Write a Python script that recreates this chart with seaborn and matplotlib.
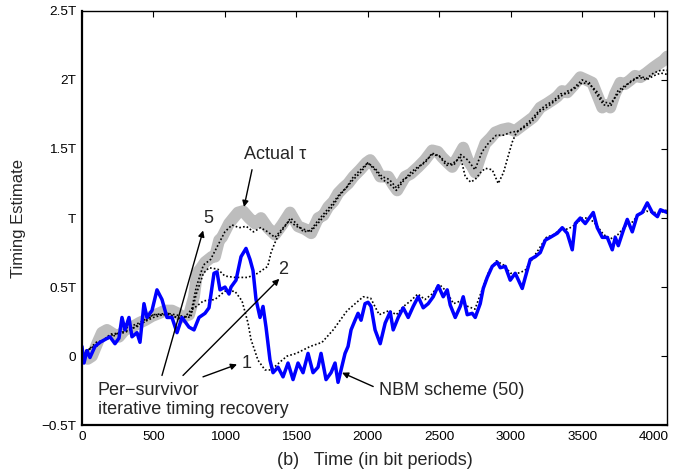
# ----------------------------------------------------------------------------------------
# ----- libraries
# ----------------------------------------------------------------------------------------
import matplotlib
matplotlib.use("Agg")
import matplotlib.pyplot as plt
import numpy as np
import pandas as pd
import seaborn as sns

# ----------------------------------------------------------------------------------------
# ----- data (time in bit periods, timing in units of T)
# ----------------------------------------------------------------------------------------
actual_t = [0, 40, 70, 110, 140, 175, 220, 259, 300, 350, 400, 441, 490, 539, 580, 630, 670,
            700, 750, 784, 805, 835, 861, 910, 931, 960, 980, 1029, 1060, 1092, 1127, 1170,
            1211, 1253, 1300, 1350, 1400, 1456, 1512, 1560, 1604, 1653, 1690, 1723, 1760,
            1793, 1830, 1863, 1900, 1947, 1990, 2017, 2052, 2087, 2143, 2178, 2206, 2262,
            2300, 2353, 2400, 2451, 2490, 2521, 2560, 2591, 2630, 2668, 2700, 2731, 2752,
            2790, 2822, 2860, 2892, 2940, 2983, 3030, 3081, 3120, 3158, 3207, 3256, 3300,
            3326, 3360, 3396, 3440, 3487, 3530, 3571, 3610, 3641, 3670, 3697, 3730, 3767,
            3800, 3838, 3870, 3908, 3950, 3999, 4040, 4069, 4096]
actual_v = [0.00, -0.02, 0.00, 0.10, 0.17, 0.19, 0.16, 0.14, 0.19, 0.21, 0.24, 0.26, 0.29,
            0.31, 0.33, 0.33, 0.31, 0.28, 0.30, 0.43, 0.60, 0.64, 0.68, 0.72, 0.72, 0.84,
            0.86, 0.96, 1.00, 1.04, 1.05, 1.00, 0.96, 1.00, 0.93, 0.88, 0.95, 1.04, 0.94,
            0.92, 0.89, 1.00, 1.02, 1.08, 1.12, 1.18, 1.22, 1.25, 1.30, 1.35, 1.40, 1.42,
            1.37, 1.30, 1.30, 1.24, 1.20, 1.30, 1.32, 1.37, 1.42, 1.49, 1.48, 1.44, 1.40,
            1.37, 1.44, 1.51, 1.42, 1.37, 1.33, 1.45, 1.54, 1.58, 1.62, 1.64, 1.65, 1.63,
            1.67, 1.70, 1.73, 1.80, 1.83, 1.86, 1.88, 1.92, 1.91, 1.96, 2.02, 2.00, 1.98,
            1.88, 1.80, 1.82, 1.80, 1.90, 1.98, 1.97, 2.00, 2.03, 2.02, 2.05, 2.09, 2.12,
            2.14, 2.17]

nbm_t = [0, 14, 35, 56, 91, 126, 161, 196, 231, 259, 280, 301, 329, 350, 385, 406, 434, 455,
         490, 525, 560, 595, 630, 665, 700, 749, 784, 819, 861, 889, 924, 945, 966, 1001,
         1029, 1043, 1078, 1113, 1148, 1176, 1197, 1218, 1246, 1267, 1288, 1316, 1337, 1372,
         1407, 1442, 1477, 1512, 1547, 1582, 1617, 1652, 1673, 1708, 1743, 1771, 1792, 1813,
         1841, 1862, 1883, 1911, 1932, 1953, 1981, 2002, 2023, 2051, 2087, 2122, 2157, 2178,
         2213, 2248, 2283, 2318, 2353, 2388, 2423, 2458, 2493, 2528, 2556, 2577, 2612, 2647,
         2668, 2696, 2731, 2752, 2787, 2808, 2836, 2871, 2906, 2927, 2962, 2997, 3032, 3081,
         3102, 3137, 3172, 3207, 3242, 3277, 3326, 3361, 3396, 3431, 3452, 3487, 3522, 3557,
         3578, 3606, 3641, 3676, 3711, 3732, 3753, 3788, 3816, 3851, 3886, 3921, 3956, 3991,
         4027, 4048, 4096]
nbm_v = [0.07, -0.05, 0.04, -0.01, 0.07, 0.10, 0.12, 0.14, 0.09, 0.13, 0.28, 0.19, 0.28,
         0.14, 0.17, 0.10, 0.38, 0.28, 0.33, 0.48, 0.41, 0.28, 0.28, 0.17, 0.28, 0.21, 0.19,
         0.28, 0.31, 0.35, 0.60, 0.61, 0.48, 0.50, 0.45, 0.50, 0.55, 0.72, 0.78, 0.70, 0.62,
         0.41, 0.28, 0.36, 0.21, -0.03, -0.12, -0.08, -0.15, -0.05, -0.17, -0.05, -0.12,
         0.02, -0.12, -0.08, 0.02, -0.17, -0.12, -0.05, -0.19, -0.10, 0.02, 0.07, 0.19,
         0.26, 0.31, 0.26, 0.38, 0.39, 0.36, 0.19, 0.09, 0.24, 0.32, 0.19, 0.28, 0.35, 0.28,
         0.36, 0.43, 0.35, 0.38, 0.43, 0.51, 0.43, 0.48, 0.37, 0.28, 0.36, 0.43, 0.30, 0.31,
         0.28, 0.38, 0.49, 0.57, 0.65, 0.68, 0.64, 0.65, 0.55, 0.60, 0.49, 0.57, 0.70, 0.72,
         0.75, 0.84, 0.86, 0.89, 0.93, 0.89, 0.77, 0.96, 1.00, 0.96, 1.01, 1.04, 0.93, 0.86,
         0.86, 0.77, 0.86, 0.80, 0.91, 0.99, 0.90, 1.02, 1.04, 1.11, 1.04, 1.01, 1.06, 1.04]

ps5_t = [0, 100, 200, 300, 400, 500, 600, 700, 760, 800, 850, 900, 950, 1000, 1050, 1100,
         1150, 1200, 1250, 1300, 1350, 1400, 1450, 1500, 1550, 1600, 1650, 1700, 1750, 1800,
         1850, 1900, 1950, 2000, 2050, 2100, 2150, 2200, 2250, 2300, 2350, 2400, 2450, 2500,
         2550, 2600, 2650, 2700, 2750, 2800, 2850, 2900, 2950, 3000, 3050, 3100, 3150, 3200,
         3250, 3300, 3350, 3400, 3450, 3500, 3550, 3600, 3650, 3700, 3750, 3800, 3850, 3900,
         3950, 4000, 4050, 4096]
ps5_v = [0.02, 0.08, 0.15, 0.18, 0.22, 0.30, 0.30, 0.27, 0.30, 0.50, 0.66, 0.70, 0.80, 0.90,
         0.95, 0.93, 0.94, 0.90, 0.93, 0.90, 0.86, 0.92, 0.98, 0.94, 0.92, 0.90, 0.96, 1.02,
         1.08, 1.16, 1.22, 1.28, 1.33, 1.40, 1.36, 1.30, 1.28, 1.22, 1.28, 1.31, 1.36, 1.41,
         1.46, 1.45, 1.40, 1.38, 1.46, 1.42, 1.35, 1.48, 1.55, 1.60, 1.60, 1.62, 1.63, 1.67,
         1.72, 1.78, 1.82, 1.85, 1.90, 1.90, 1.95, 2.00, 1.98, 1.90, 1.82, 1.81, 1.92, 1.96,
         1.99, 2.03, 2.01, 2.05, 2.07, 2.07]

ps2_t = [0, 100, 200, 300, 400, 500, 600, 700, 760, 800, 850, 889, 950, 1000, 1070, 1160,
         1230, 1300, 1323, 1350, 1372, 1420, 1460, 1500, 1550, 1600, 1650, 1700, 1750, 1800,
         1850, 1900, 1950, 2000, 2050, 2100, 2150, 2200, 2250, 2300, 2350, 2400, 2450, 2500,
         2550, 2600, 2650, 2682, 2720, 2752, 2790, 2822, 2871, 2913, 2950, 2983, 3011, 3040,
         3100, 3150, 3200, 3250, 3300, 3350, 3400, 3450, 3500, 3550, 3600, 3650, 3700, 3750,
         3800, 3850, 3900, 3950, 4000, 4050, 4096]
ps2_v = [0.00, 0.10, 0.13, 0.20, 0.24, 0.30, 0.31, 0.29, 0.28, 0.45, 0.60, 0.64, 0.63, 0.58,
         0.57, 0.57, 0.60, 0.65, 0.75, 0.82, 0.87, 0.94, 1.00, 0.96, 0.90, 0.91, 0.98, 1.04,
         1.10, 1.17, 1.22, 1.30, 1.35, 1.40, 1.35, 1.28, 1.25, 1.20, 1.27, 1.33, 1.37, 1.40,
         1.47, 1.45, 1.38, 1.40, 1.44, 1.30, 1.26, 1.28, 1.33, 1.36, 1.35, 1.25, 1.33, 1.45,
         1.55, 1.62, 1.66, 1.70, 1.77, 1.80, 1.84, 1.88, 1.92, 1.94, 1.98, 1.97, 1.92, 1.84,
         1.83, 1.90, 1.95, 2.00, 2.02, 2.00, 2.03, 2.05, 2.04]

ps1_t = [0, 100, 200, 300, 400, 500, 600, 700, 760, 800, 850, 930, 1000, 1070, 1120, 1162,
         1183, 1232, 1281, 1323, 1400, 1435, 1500, 1597, 1680, 1758, 1856, 1968, 2020, 2080,
         2150, 2200, 2250, 2300, 2350, 2400, 2450, 2500, 2550, 2600, 2650, 2700, 2750, 2800,
         2850, 2900, 2950, 3000, 3050, 3100, 3150, 3200, 3250, 3300, 3350, 3400, 3450, 3500,
         3550, 3600, 3650, 3700, 3750, 3800, 3850, 3900, 3950, 4000, 4050, 4096]
ps1_v = [0.03, 0.07, 0.16, 0.17, 0.23, 0.28, 0.31, 0.26, 0.33, 0.36, 0.40, 0.41, 0.47, 0.47,
         0.40, 0.24, 0.12, -0.03, -0.10, -0.10, -0.03, 0.00, 0.02, 0.07, 0.10, 0.19, 0.33,
         0.43, 0.42, 0.30, 0.33, 0.30, 0.36, 0.40, 0.45, 0.41, 0.45, 0.52, 0.47, 0.38, 0.40,
         0.36, 0.34, 0.48, 0.62, 0.69, 0.66, 0.60, 0.60, 0.62, 0.70, 0.78, 0.86, 0.88, 0.92,
         0.92, 0.95, 1.00, 1.00, 0.95, 0.88, 0.85, 0.88, 0.94, 0.97, 1.03, 1.05, 1.04, 1.04,
         1.06]

x_ticks = [0, 500, 1000, 1500, 2000, 2500, 3000, 3500, 4000]
y_ticks = [-0.5, 0, 0.5, 1, 1.5, 2, 2.5]
y_tick_labels = ["\u22120.5T", "0", "0.5T", "T", "1.5T", "2T", "2.5T"]


# ----------------------------------------------------------------------------------------
# ----- functions
# ----------------------------------------------------------------------------------------
def arrow(ax, start, end):
    ax.annotate("", xy=end, xytext=start,
                arrowprops=dict(arrowstyle="-|>", color="black", lw=1.0,
                                mutation_scale=9, shrinkA=0, shrinkB=0))


def draw():
    sns.set_style("white")
    plt.rcParams["font.family"] = ["Liberation Sans", "DejaVu Sans"]

    fig = plt.figure(figsize=(6.83, 4.74), dpi=100)
    ax = fig.add_axes([0.120, 0.103, 0.857, 0.874])

    df_act = pd.DataFrame({"bit": actual_t, "tau": actual_v})
    df_nbm = pd.DataFrame({"bit": nbm_t, "tau": nbm_v})
    df_p5 = pd.DataFrame({"bit": ps5_t, "tau": ps5_v})
    df_p2 = pd.DataFrame({"bit": ps2_t, "tau": ps2_v})
    df_p1 = pd.DataFrame({"bit": ps1_t, "tau": ps1_v})

    sns.lineplot(data=df_act, x="bit", y="tau", ax=ax, color="#bdbdbd", lw=8.5,
                 solid_capstyle="round", solid_joinstyle="round")
    for d in (df_p5, df_p2, df_p1):
        sns.lineplot(data=d, x="bit", y="tau", ax=ax, color="black", lw=1.2,
                     linestyle=(0, (1, 1.3)))
    sns.lineplot(data=df_nbm, x="bit", y="tau", ax=ax, color="#0000ff", lw=2.5)

    ax.set_xlim(0, 4096)
    ax.set_ylim(-0.5, 2.5)
    ax.set_xticks(x_ticks)
    ax.set_yticks(y_ticks)
    ax.set_yticklabels(y_tick_labels)
    ax.tick_params(direction="in", length=4, width=0.8, top=True, right=True,
                   labelsize=9.7, pad=4, colors="black")

    for side in ("left", "bottom"):
        ax.spines[side].set_linewidth(1.6)
    for side in ("top", "right"):
        ax.spines[side].set_linewidth(1.0)
    for s in ax.spines.values():
        s.set_color("black")

    ax.set_xlabel("(b)   Time (in bit periods)", fontsize=13)
    ax.set_ylabel("Timing Estimate", fontsize=12)
    ax.xaxis.set_label_coords(0.5, -0.085)
    ax.xaxis.label.set_va("center")
    ax.yaxis.set_label_coords(-0.108, 0.5)
    ax.yaxis.label.set_va("center")

    # annotations
    fs = 13
    ax.text(1351, 1.46, "Actual \u03c4", fontsize=fs, ha="center", va="center")
    arrow(ax, (1190, 1.35), (1134, 1.08))
    ax.text(882, 1.0, "5", fontsize=fs, ha="center", va="center")
    ax.text(1407, 0.63, "2", fontsize=fs, ha="center", va="center")
    ax.text(1155, -0.05, "1", fontsize=fs, ha="center", va="center")
    arrow(ax, (560, -0.14), (848, 0.91))
    arrow(ax, (707, -0.14), (1381, 0.56))
    arrow(ax, (847, -0.15), (1085, -0.06))
    ax.text(112, -0.25, "Per\u2212survivor", fontsize=fs, ha="left", va="center")
    ax.text(112, -0.39, "iterative timing recovery", fontsize=fs, ha="left", va="center")
    ax.text(2080, -0.25, "NBM scheme (50)", fontsize=fs, ha="left", va="center")
    arrow(ax, (2038, -0.22), (1820, -0.12))

    fig.savefig("out.png", dpi=100)


# ----------------------------------------------------------------------------------------
# ----- start
# ----------------------------------------------------------------------------------------
if __name__ == "__main__":
    draw()
